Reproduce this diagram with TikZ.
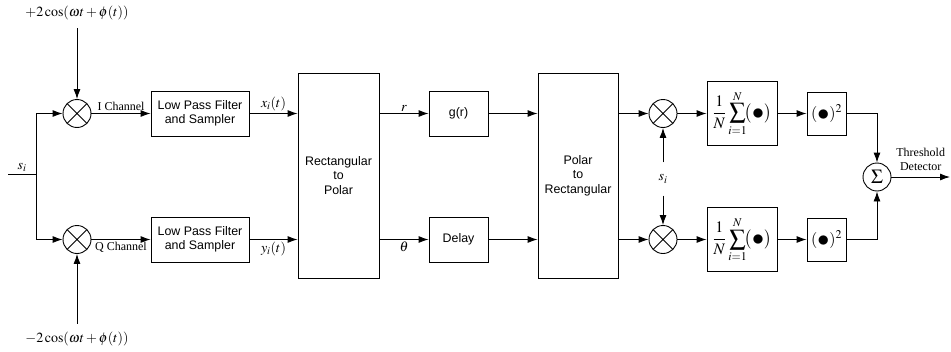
\documentclass[tikz,border=0pt]{standalone}
\usepackage{amsmath}
\usepackage{mathptmx}
\usepackage{fontspec}
\setmainfont{Liberation Serif}
\setsansfont{Liberation Sans}
\usetikzlibrary{arrows.meta}

\newcommand{\bigdot}{\mathord{\raisebox{-0.12em}{\scalebox{1.5}{$\bullet$}}}}

\tikzset{
  blk/.style={draw, font=\sffamily\fontsize{12.4}{14.5}\selectfont, align=center, inner sep=0pt},
  mix/.style={draw, circle, minimum size=28pt, inner sep=0pt,
    path picture={\draw (path picture bounding box.north west)--(path picture bounding box.south east)
      (path picture bounding box.north east)--(path picture bounding box.south west);}},
  lbl/.style={font=\fontsize{12}{14}\selectfont, inner sep=2pt, align=center},
  mlbl/.style={font=\fontsize{14}{16}\selectfont, inner sep=2pt},
  mth/.style={font=\fontsize{16}{18}\selectfont},
}

\begin{document}
\begin{tikzpicture}[x=1pt,y=-1pt,line width=0.9pt,>={Latex[length=10pt,width=7pt]}]
            \useasboundingbox (0,0) rectangle (951,351);
            \node[mix] (mi) at (77,113.5) {};
            \node[mix] (mq) at (77,239.5) {};
            \node[mlbl] (ci) at (77,13) {$+2\cos(\omega t+\phi(t))$};
            \node[mlbl] (cq) at (77,339) {$-2\cos(\omega t+\phi(t))$};
            \node[blk, minimum width=98pt, minimum height=45pt] (lpfi) at (200,113.5) {Low Pass Filter\\and Sampler};
            \node[blk, minimum width=98pt, minimum height=45pt] (lpfq) at (200,239.5) {Low Pass Filter\\and Sampler};
            \node[blk, minimum width=81pt, minimum height=205pt] (rp) at (338.5,175.5) {Rectangular\\to\\Polar};
            \node[blk, minimum width=59pt, minimum height=45pt] (g) at (458.5,113.5) {g(r)};
            \node[blk, minimum width=59pt, minimum height=45pt] (dl) at (458.5,239.5) {Delay};
            \node[blk, minimum width=80pt, minimum height=205pt] (pr) at (578,175.5) {Polar\\to\\Rectangular};
            \node[mix] (m1) at (663,113.5) {};
            \node[mix] (m2) at (663,239.5) {};
            \node[mlbl] (si2) at (663,179) {$s_i$};
            \node[blk, mth, minimum width=70pt, minimum height=64pt] (av1) at (742,113.5) {$\displaystyle\frac{1}{N}\sum_{i=1}^{N}\!\bigl(\bigdot\bigr)$};
            \node[blk, mth, minimum width=70pt, minimum height=64pt] (av2) at (742,239.5) {$\displaystyle\frac{1}{N}\sum_{i=1}^{N}\!\bigl(\bigdot\bigr)$};
            \node[blk, mth, minimum width=39pt, minimum height=43pt] (sq1) at (826.5,113.5) {$(\bigdot)^2$};
            \node[blk, mth, minimum width=39pt, minimum height=43pt] (sq2) at (826.5,239.5) {$(\bigdot)^2$};
            \node[draw, circle, minimum size=28pt, inner sep=0pt, font=\fontsize{20}{20}\selectfont] (sg) at (877,177) {$\Sigma$};
            \coordinate (in) at (8,174);
            \coordinate (sp) at (36,174);
            \coordinate (out) at (950,177);
            \draw (in) -- (sp) node[mlbl, midway, above] {$s_i$};
            \draw[->] (sp) |- (mi.west);
            \draw[->] (sp) |- (mq.west);
            \draw[->] ([yshift=-6pt]ci.south) -- (mi.north);
            \draw[->] ([yshift=6pt]cq.north) -- (mq.south);
            \draw[->] (mi.east) -- (lpfi.west) node[lbl, midway, above] {I Channel};
            \draw[->] (mq.east) -- (lpfq.west) node[lbl, midway, below] {Q Channel};
            \draw[->] (lpfi.east) -- (lpfi.east -| rp.west) node[mlbl, midway, above] {$x_i(t)$};
            \draw[->] (lpfq.east) -- (lpfq.east -| rp.west) node[mlbl, midway, below] {$y_i(t)$};
            \draw[->] (g.west -| rp.east) -- (g.west) node[mlbl, midway, above] {$r$};
            \draw[->] (dl.west -| rp.east) -- (dl.west) node[mlbl, midway, below] {$\theta$};
            \draw[->] (g.east) -- (g.east -| pr.west);
            \draw[->] (dl.east) -- (dl.east -| pr.west);
            \draw[->] (m1.west -| pr.east) -- (m1.west);
            \draw[->] (m2.west -| pr.east) -- (m2.west);
            \draw[->] ([yshift=10pt]si2.north) -- (m1.south);
            \draw[->] ([yshift=-10pt]si2.south) -- (m2.north);
            \draw[->] (m1.east) -- (av1.west);
            \draw[->] (m2.east) -- (av2.west);
            \draw[->] (av1.east) -- (sq1.west);
            \draw[->] (av2.east) -- (sq2.west);
            \draw[->] (sq1.east) -| (sg.north);
            \draw[->] (sq2.east) -| (sg.south);
            \draw[->] (sg.east) -- (out) node[lbl, midway, above, yshift=4pt] {Threshold\\Detector};
        \end{tikzpicture}
\end{document}
